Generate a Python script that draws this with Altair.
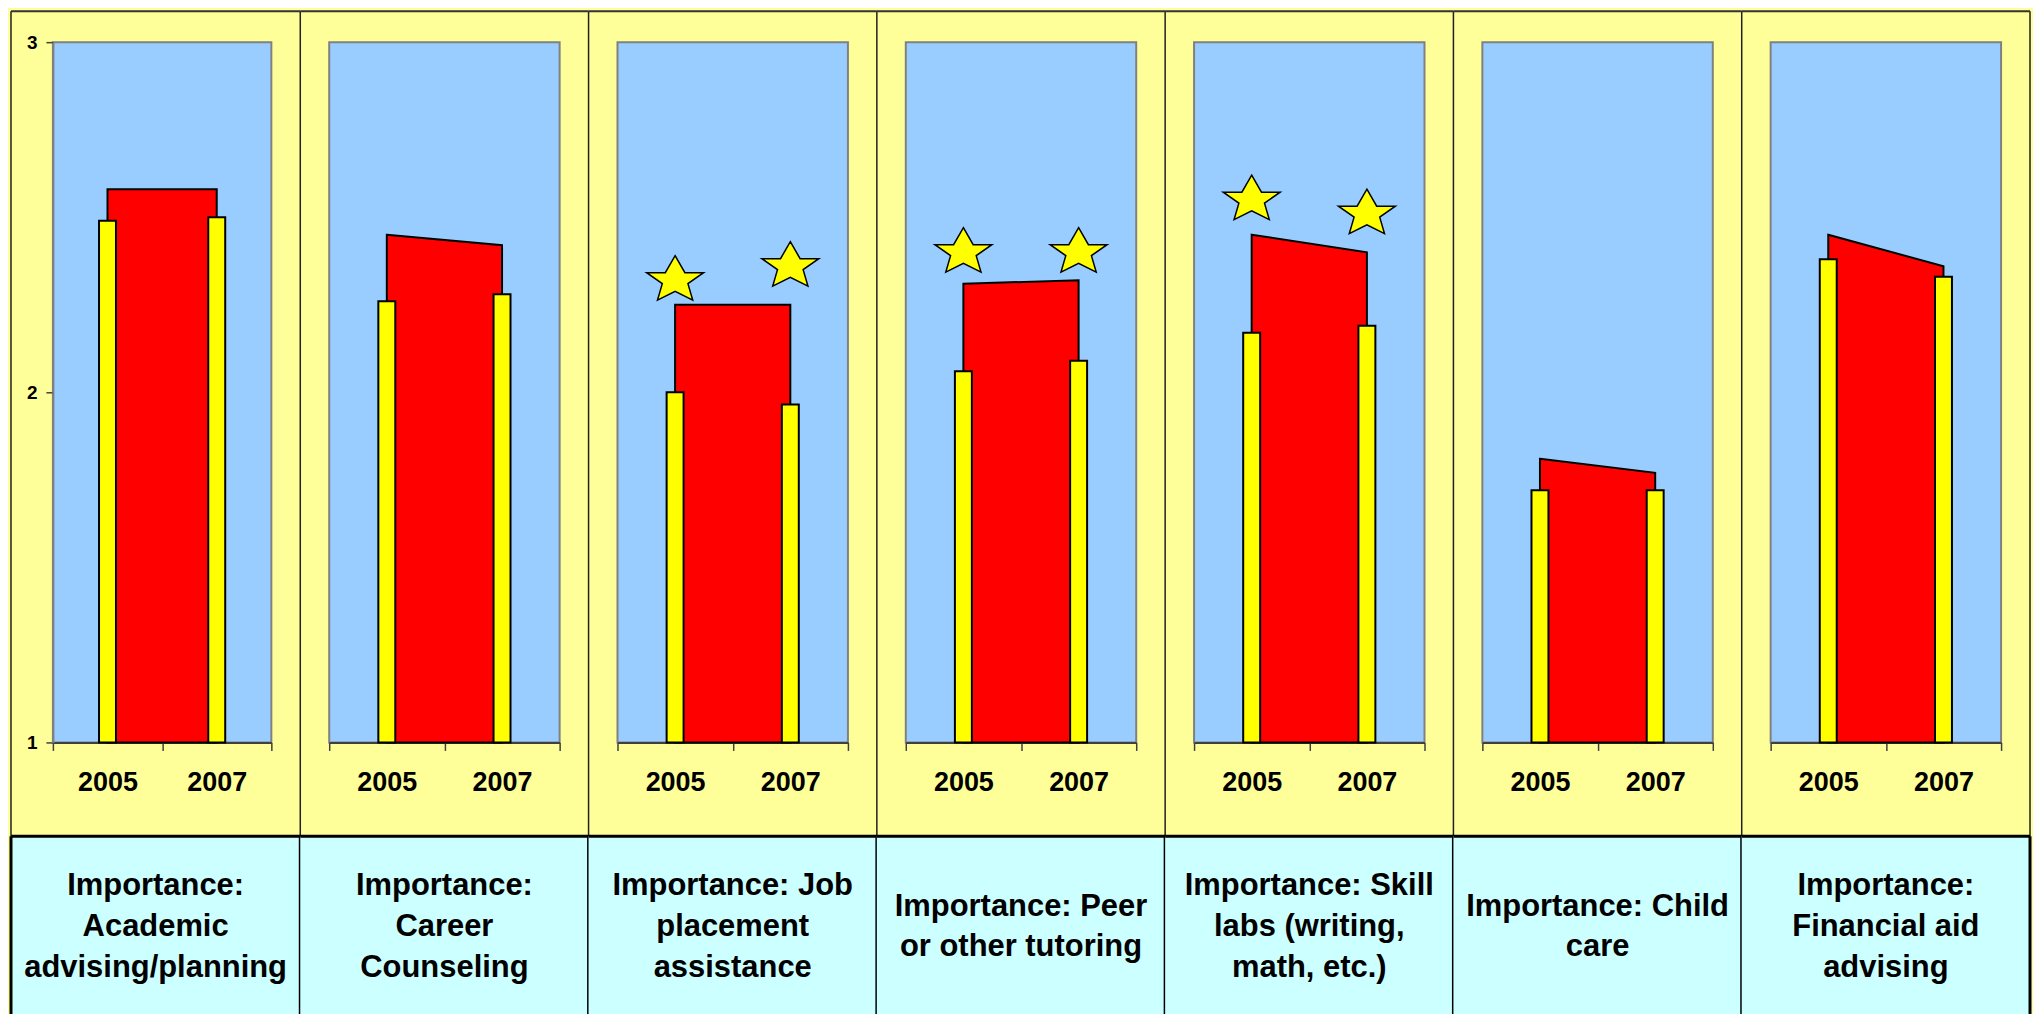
import altair as alt
import pandas as pd

# ---- data ----
labels = [
    "Importance:\nAcademic\nadvising/planning",
    "Importance:\nCareer\nCounseling",
    "Importance: Job\nplacement\nassistance",
    "Importance: Peer\nor other tutoring",
    "Importance: Skill\nlabs (writing,\nmath, etc.)",
    "Importance: Child\ncare",
    "Importance:\nFinancial aid\nadvising",
]
years = ["2005", "2007"]
red_2005 = [2.58, 2.45, 2.25, 2.31, 2.45, 1.81, 2.45]
red_2007 = [2.58, 2.42, 2.25, 2.32, 2.40, 1.77, 2.36]
bar_2005 = [2.49, 2.26, 2.00, 2.06, 2.17, 1.72, 2.38]
bar_2007 = [2.50, 2.28, 1.965, 2.09, 2.19, 1.72, 2.33]
star_2005 = [None, None, 2.32, 2.40, 2.55, None, None]
star_2007 = [None, None, 2.36, 2.40, 2.51, None, None]
y_ticks = [1.0, 2.0, 3.0]

FONT = "Liberation Sans, Arial, sans-serif"
STAR = ("M0,-0.82L0.327,-0.253L0.951,-0.253L0.428,0.114L0.588,0.663L0,0.369"
        "L-0.588,0.663L-0.428,0.114L-0.951,-0.253L-0.327,-0.253Z")

H_PLOT = 702   # plot height
TOP = 31       # yellow strip above plot
B = 94         # yellow strip below plot
BOX_H = 182    # label box height (runs to the window bottom)
SPACING = 58
LINE_H = 41


def panel(i):
    first = i == 0
    w = 219 if first else 231
    L = 42 if first else 29
    R = 29
    xscale = alt.Scale(type="band", paddingInner=0, paddingOuter=0, domain=years)
    yscale = alt.Scale(domain=[1, 3], nice=False, zero=False)
    xaxis = alt.Axis(title=None, labelAngle=0, labelFont=FONT, labelFontSize=27,
                     labelFontWeight="bold", labelColor="black", labelPadding=19,
                     tickBand="extent", tickSize=8, tickColor="#404040", tickWidth=1.5,
                     domainColor="#404040", domainWidth=2, labelOverlap=False)
    if first:
        yaxis = alt.Axis(title=None, values=y_ticks, tickCount=3, format=".0f",
                         labelFont=FONT, labelFontSize=19, labelFontWeight="bold",
                         labelColor="black", labelPadding=9, tickSize=7,
                         tickColor="#404040", tickWidth=1.5, domainColor="#808080",
                         domainWidth=2, grid=False, labelOverlap=False, labelFlush=False)
    else:
        yaxis = None

    def X():
        return alt.X("year:N", scale=xscale, axis=xaxis, bandPosition=0.5)

    def Y():
        return alt.Y("value:Q", scale=yscale, axis=yaxis)

    frame = pd.DataFrame({"k": [0]})
    box_top = H_PLOT + B
    box_bot = H_PLOT + B + BOX_H
    n_lines = labels[i].count("\n") + 1
    text_y = box_top + 91 - (n_lines - 1) * LINE_H / 2

    box = alt.Chart(frame).mark_rect(fill="#CCFFFF").encode(
        x=alt.value(-L), x2=alt.value(w + R), y=alt.value(box_top), y2=alt.value(box_bot))
    txt = alt.Chart(pd.DataFrame({"t": [labels[i]]})).mark_text(
        font=FONT, fontSize=31, fontWeight="bold", lineBreak="\n", lineHeight=LINE_H,
        align="center", baseline="middle", color="black"
    ).encode(text="t:N", x=alt.value((w + R - L) / 2), y=alt.value(text_y))
    right_thin = alt.Chart(frame).mark_rule(color="#202020", strokeWidth=1.5).encode(
        x=alt.value(w + R), y=alt.value(-TOP), y2=alt.value(box_top))
    top_rule = alt.Chart(frame).mark_rule(color="#333333", strokeWidth=2).encode(
        x=alt.value(-L), x2=alt.value(w + R), y=alt.value(-TOP))
    box_top_rule = alt.Chart(frame).mark_rule(color="black", strokeWidth=3).encode(
        x=alt.value(-L), x2=alt.value(w + R), y=alt.value(box_top))
    box_right = alt.Chart(frame).mark_rule(color="black", strokeWidth=3).encode(
        x=alt.value(w + R), y=alt.value(box_top), y2=alt.value(box_bot))

    area_df = pd.DataFrame({"year": years, "value": [red_2005[i], red_2007[i]]})
    bar_df = pd.DataFrame({"year": years, "value": [bar_2005[i], bar_2007[i]]})

    area = alt.Chart(area_df).mark_area(
        fill="#FF0000", stroke="black", strokeWidth=2, opacity=1
    ).encode(x=X(), y=Y(), y2=alt.datum(1))
    bars = alt.Chart(bar_df).mark_bar(
        size=17, fill="#FFFF00", stroke="black", strokeWidth=2
    ).encode(x=X(), y=Y(), y2=alt.datum(1))

    # data layers first so that their axes are the ones that get built
    layers = [area, bars]

    sy, sv = [], []
    for yr, v in zip(years, [star_2005[i], star_2007[i]]):
        if v is not None:
            sy.append(yr)
            sv.append(v)
    if sv:
        star_df = pd.DataFrame({"year": sy, "value": sv})
        stars = alt.Chart(star_df).mark_point(
            shape=STAR, size=3600, filled=True, fill="#FFFF00",
            stroke="black", strokeWidth=1.5, opacity=1
        ).encode(x=X(), y=Y())
        layers.append(stars)

    layers += [box, txt, right_thin, top_rule, box_top_rule, box_right]
    if first:
        layers.append(alt.Chart(frame).mark_rule(color="#202020", strokeWidth=1.5).encode(
            x=alt.value(-L), y=alt.value(-TOP), y2=alt.value(box_top)))
        layers.append(alt.Chart(frame).mark_rule(color="black", strokeWidth=3).encode(
            x=alt.value(-L), y=alt.value(box_top), y2=alt.value(box_bot)))

    return alt.layer(*layers).properties(
        width=w, height=H_PLOT,
        view=alt.ViewBackground(fill="#99CCFF", stroke="#808080", strokeWidth=2),
    )


chart = alt.hconcat(
    *[panel(i) for i in range(len(labels))], spacing=SPACING, bounds="flush"
).properties(
    padding=0, background="#FFFF99"
).configure_concat(spacing=SPACING)

chart.save("out.html", embed_options={"renderer": "svg", "actions": False})
